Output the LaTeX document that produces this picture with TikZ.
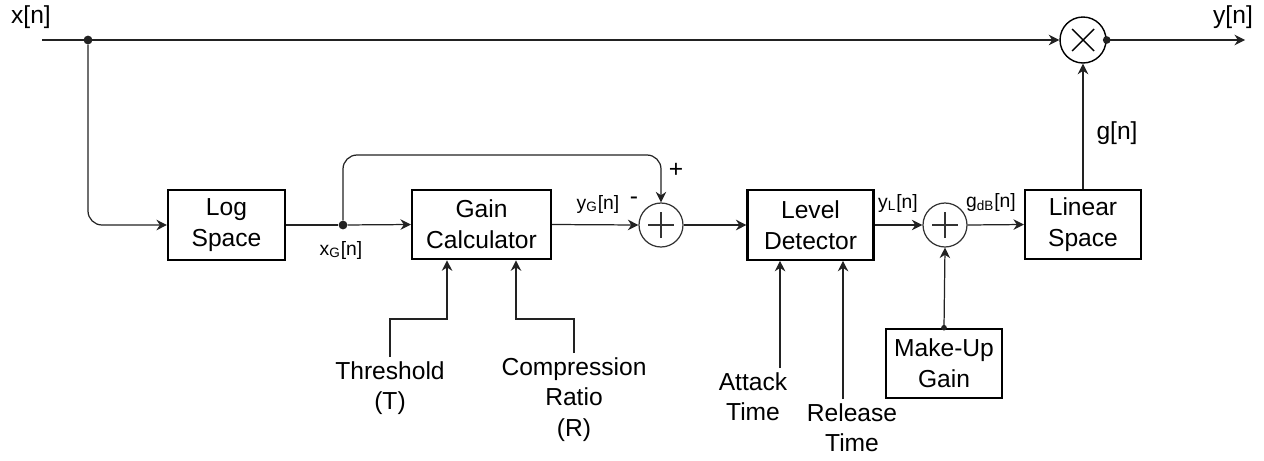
\documentclass[tikz,border=0pt]{standalone}
\usepackage{fontspec}
\setmainfont{Liberation Sans}
\usepackage{xcolor}
\definecolor{LineGray}{HTML}{222222}
\definecolor{SumGray}{HTML}{333333}
\usepackage{tikz}
\usetikzlibrary{arrows.meta, calc, positioning}

\begin{document}
\begin{tikzpicture}[>={Stealth[length=6pt, width=6pt]},
    x=0.02cm, y=-0.02cm,
    sig/.style={->, LineGray, line width=0.7pt},
    wire/.style={LineGray, line width=0.7pt},
    block/.style={draw, line width=1.2pt, align=center, inner sep=0pt,
                  minimum height=1.39cm, font=\fontsize{14}{17.5}\selectfont},
    sumnode/.style={circle, draw=SumGray, line width=0.7pt, minimum size=0.88cm,
                    inner sep=0pt,
                    path picture={
                      \draw[SumGray, line width=0.7pt]
                        ([xshift=-0.26cm]path picture bounding box.center) --
                        ([xshift=0.26cm]path picture bounding box.center);
                      \draw[SumGray, line width=0.7pt]
                        ([yshift=-0.26cm]path picture bounding box.center) --
                        ([yshift=0.26cm]path picture bounding box.center);}},
    multnode/.style={circle, draw, line width=0.8pt, minimum size=0.92cm,
                     inner sep=0pt,
                     path picture={
                       \draw[line width=0.8pt]
                         ([shift={(-0.22cm,-0.22cm)}]path picture bounding box.center) --
                         ([shift={(0.22cm,0.22cm)}]path picture bounding box.center);
                       \draw[line width=0.8pt]
                         ([shift={(-0.22cm,0.22cm)}]path picture bounding box.center) --
                         ([shift={(0.22cm,-0.22cm)}]path picture bounding box.center);}},
    lbl/.style={font=\fontsize{14}{17.5}\selectfont, align=center, inner sep=0pt},
    param/.style={lbl, anchor=north, inner ysep=2.3pt},
    sublbl/.style={font=\fontsize{11}{13}\selectfont, inner sep=0pt},
    signlbl/.style={font=\fontsize{14}{14}\selectfont, inner sep=0pt},
    dot/.style={circle, fill=LineGray, inner sep=0pt, minimum size=5pt}]
  % page size (pixel grid of the reference, y downwards)
  \useasboundingbox (0,0) rectangle (1264,460);

  % Blocks
  \node[block, minimum width=2.34cm] (logspace)  at (226.5,225) {Log\\Space};
  \node[block, minimum width=2.78cm] (gaincalc)  at (481.5,224.5) {Gain\\Calculator};
  \node[block, minimum width=2.52cm] (leveldet)  at (810.5,225) {Level\\Detector};
  \node[block, minimum width=2.32cm] (linspace)  at (1083,224.5) {Linear\\Space};
  \node[block, minimum width=2.32cm] (makeup)    at (944,363.5) {Make-Up\\Gain};

  % Junctions
  \node[sumnode]  (sumA) at (661,225) {};
  \node[sumnode]  (sumB) at (945,225) {};
  \node[multnode] (mult) at (1083,40) {};

  % Signal points
  \coordinate (xin)  at (42,40);
  \coordinate (yout) at (1245,40);
  \node[dot] (split) at (88,40) {};
  \node[dot] (xg)    at (343,225) {};
  \coordinate (fbtop) at (0,155);   % height of the feed-forward line

  % Main path
  \draw[sig] (xin) -- (mult.west);
  \draw[sig, rounded corners=8pt] (split) |- (logspace.west);
  \draw[wire] (logspace.east) -- (xg);
  \draw[sig] (xg) -- (gaincalc.west);
  \draw[sig, rounded corners=8pt] (xg) |- (fbtop -| sumA.north) -- (sumA.north);
  \draw[sig] (gaincalc.east) -- (sumA.west);
  \draw[sig] (sumA.east) -- (leveldet.west);
  \draw[sig] (leveldet.east) -- (sumB.west);
  \draw[sig] (sumB.east) -- (linspace.west);
  \draw[sig] (linspace.north) -- (mult.south);
  \draw[sig] (mult.east) -- (yout);
  \fill[LineGray] (mult.east) circle (2.2pt);

  % Make-up gain into second sum
  \draw[sig] (makeup.north) -- (sumB.south);
  \fill[LineGray] (makeup.north) circle (1.6pt);

  % Parameters of the gain calculator
  \node[param] (thr) at (390,357) {Threshold\\(T)};
  \node[param] (cr)  at (574,353) {Compression\\Ratio\\(R)};
  \draw[sig] (thr.north) -- ++(0,-38) -| ([xshift=-0.69cm]gaincalc.south);
  \draw[sig] (cr.north) -- ++(0,-34) -| ([xshift=0.69cm]gaincalc.south);

  % Parameters of the level detector
  \node[param] (atk) at (753,368) {Attack\\Time};
  \node[param] (rel) at (852,399) {Release\\Time};
  \draw[sig] ([xshift=-0.61cm]leveldet.south |- atk.north) -- ([xshift=-0.61cm]leveldet.south);
  \draw[sig] ([xshift=0.65cm]leveldet.south |- rel.north) -- ([xshift=0.65cm]leveldet.south);

  % Signal labels
  \node[lbl] at (31,17) {x[n]};
  \node[lbl] at (1233,17) {y[n]};
  \node[lbl] at (1117,133) {g[n]};
  \node[sublbl] at (341,250) {x\textsubscript{G}[n]};
  \node[sublbl] at (598,204) {y\textsubscript{G}[n]};
  \node[signlbl] at (634,201) {-};
  \node[signlbl] at (676,170) {+};
  \node[sublbl] at (898,203) {y\textsubscript{L}[n]};
  \node[sublbl] at (991,202) {g\textsubscript{dB}[n]};
\end{tikzpicture}
\end{document}
